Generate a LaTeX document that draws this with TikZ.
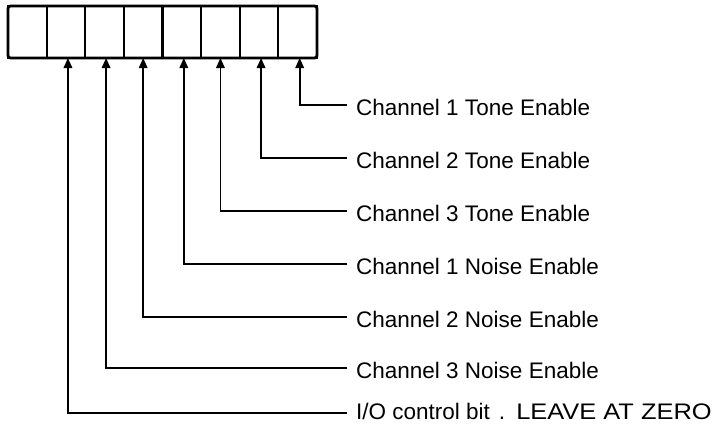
\documentclass[tikz,border=0pt]{standalone}
\usepackage{fontspec}
\usetikzlibrary{arrows.meta}
\newfontfamily\labelfont{Liberation Sans}

\tikzset{
  cell/.style={draw, line width=2.2pt, minimum width=38.625pt, minimum height=52pt,
               inner sep=0pt, outer sep=0pt},
  bitlabel/.style={anchor=base west, inner xsep=9pt, inner ysep=0pt,
                   font=\labelfont\fontsize{22.5}{26}\selectfont},
  conn/.style={line width=1.7pt, -{Triangle[width=8.5pt,length=10pt]}},
}

\begin{document}
\begin{tikzpicture}[x=1pt,y=-1pt]
  \useasboundingbox (0,0) rectangle (724,426);

  % the eight-bit register, bit 7 on the left
  \foreach \i [count=\k from 0] in {7,6,5,4,3,2,1,0}
    \node[cell] (b\i) at ({8+38.625*(\k+0.5)},32) {};
  \draw[line width=2.8pt, rounded corners=2.5pt] (8,6) rectangle (317,58);

  % ends of the leader lines
  \coordinate (e0) at (347,105);
  \coordinate (e1) at (347,158);
  \coordinate (e2) at (347,211);
  \coordinate (e3) at (347,264);
  \coordinate (e4) at (347,317);
  \coordinate (e5) at (347,368);
  \coordinate (e6) at (347,413);

  % bit descriptions
  \node[bitlabel] (l0) at (347,115) {Channel 1 Tone Enable};
  \node[bitlabel] (l1) at (347,168) {Channel 2 Tone Enable};
  \node[bitlabel] (l2) at (347,221) {Channel 3 Tone Enable};
  \node[bitlabel] (l3) at (347,274) {Channel 1 Noise Enable};
  \node[bitlabel] (l4) at (347,327) {Channel 2 Noise Enable};
  \node[bitlabel] (l5) at (347,378) {Channel 3 Noise Enable};
  \node[bitlabel] (l6) at (347,419)
    {I/O control bit\hspace{9pt}.\hspace{11pt}\scalebox{1.13}[1]{LEAVE AT ZERO}};

  % leaders from each description up to its bit
  \draw[conn] (e0) -| ([xshift=2pt]b0.south);
  \draw[conn] (e1) -| ([xshift=2pt]b1.south);
  \draw[conn] (e2) -| (b2.south);
  \draw[conn] (e3) -| ([xshift=2pt]b3.south);
  \draw[conn] (e4) -| (b4.south);
  \draw[conn] (e5) -| ([xshift=1.5pt]b5.south);
  \draw[conn] (e6) -| ([xshift=2pt]b6.south);
\end{tikzpicture}
\end{document}
